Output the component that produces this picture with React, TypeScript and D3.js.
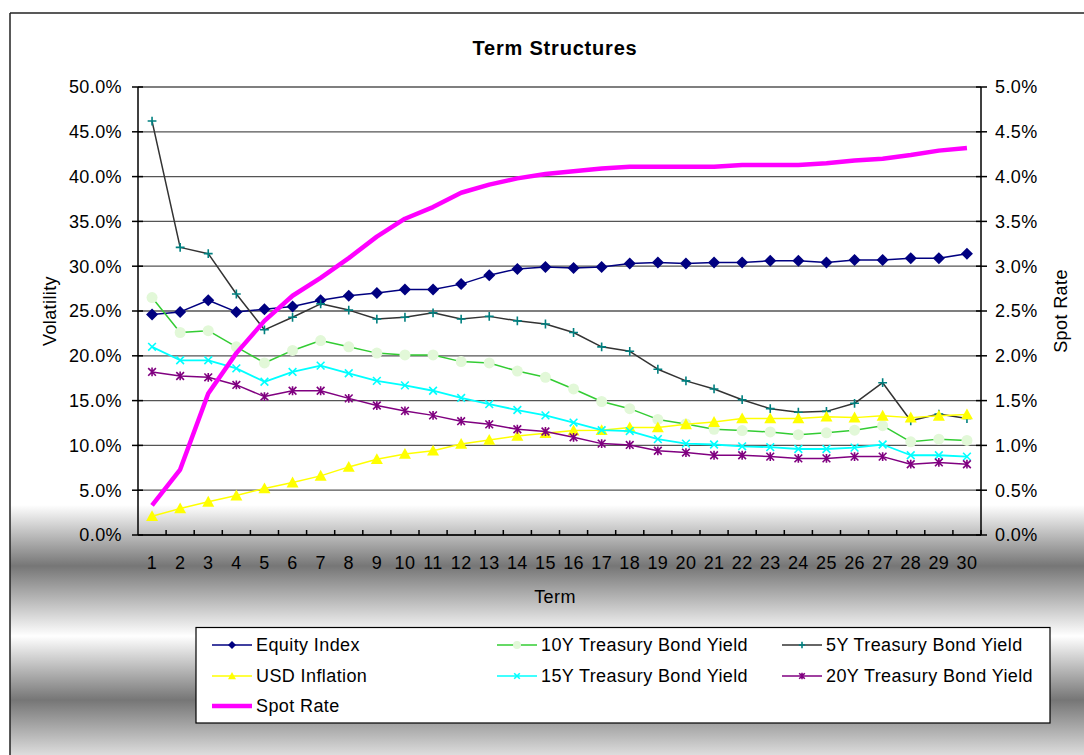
import React from "react";
import * as d3 from "d3";

const terms: number[] = d3.range(1, 31);
const equityIndex = [24.6, 24.9, 26.2, 24.9, 25.2, 25.5, 26.2, 26.7, 27.0, 27.4, 27.4, 28.0, 29.0, 29.7, 29.9, 29.8, 29.9, 30.3, 30.4, 30.3, 30.4, 30.4, 30.6, 30.6, 30.4, 30.7, 30.7, 30.9, 30.9, 31.4];
const y10Treasury = [26.5, 22.6, 22.8, 21.0, 19.2, 20.6, 21.7, 21.0, 20.3, 20.1, 20.1, 19.35, 19.2, 18.3, 17.6, 16.3, 14.9, 14.1, 12.9, 12.4, 11.8, 11.65, 11.5, 11.2, 11.4, 11.7, 12.2, 10.4, 10.7, 10.55];
const y5Treasury = [46.2, 32.1, 31.4, 26.9, 22.9, 24.3, 25.8, 25.1, 24.1, 24.3, 24.8, 24.1, 24.4, 23.9, 23.55, 22.6, 21.0, 20.5, 18.5, 17.2, 16.3, 15.1, 14.1, 13.7, 13.8, 14.7, 17.0, 12.75, 13.5, 13.0];
const usdInflation = [2.1, 2.95, 3.7, 4.4, 5.2, 5.85, 6.6, 7.6, 8.45, 9.05, 9.4, 10.15, 10.6, 11.05, 11.35, 11.65, 11.7, 12.0, 12.0, 12.35, 12.6, 13.0, 13.0, 13.0, 13.2, 13.1, 13.3, 13.1, 13.3, 13.45];
const y15Treasury = [21.0, 19.5, 19.5, 18.6, 17.1, 18.2, 18.9, 18.05, 17.2, 16.7, 16.1, 15.3, 14.6, 13.95, 13.35, 12.55, 11.7, 11.6, 10.7, 10.2, 10.1, 9.9, 9.8, 9.6, 9.6, 9.75, 10.1, 8.9, 8.9, 8.75];
const y20Treasury = [18.2, 17.75, 17.6, 16.75, 15.45, 16.1, 16.1, 15.25, 14.45, 13.85, 13.35, 12.7, 12.35, 11.8, 11.55, 10.9, 10.2, 10.05, 9.4, 9.2, 8.9, 8.9, 8.75, 8.55, 8.55, 8.75, 8.75, 7.9, 8.1, 7.9];
const spotRate = [0.33, 0.73, 1.58, 2.03, 2.39, 2.67, 2.87, 3.09, 3.33, 3.53, 3.66, 3.82, 3.91, 3.98, 4.03, 4.06, 4.09, 4.11, 4.11, 4.11, 4.11, 4.13, 4.13, 4.13, 4.15, 4.18, 4.20, 4.24, 4.29, 4.32];

const leftTicks = d3.range(0, 50.01, 5);
const rightTicks = d3.range(0, 5.001, 0.5);

type Marker = "diamond" | "circle" | "plus" | "triangle" | "cross" | "star" | "none";
interface Series { name: string; values: number[]; line: string; width: number; marker: Marker; mfill: string; axis: "left" | "right"; }

const series: Series[] = [
  { name: "Equity Index", values: equityIndex, line: "#000080", width: 1.5, marker: "diamond", mfill: "#000080", axis: "left" },
  { name: "10Y Treasury Bond Yield", values: y10Treasury, line: "#33cc33", width: 1.5, marker: "circle", mfill: "#e2f8d8", axis: "left" },
  { name: "5Y Treasury Bond Yield", values: y5Treasury, line: "#333333", width: 1.5, marker: "plus", mfill: "#008080", axis: "left" },
  { name: "USD Inflation", values: usdInflation, line: "#ffff00", width: 1.5, marker: "triangle", mfill: "#ffff00", axis: "left" },
  { name: "15Y Treasury Bond Yield", values: y15Treasury, line: "#00ffff", width: 1.8, marker: "cross", mfill: "#00ffff", axis: "left" },
  { name: "20Y Treasury Bond Yield", values: y20Treasury, line: "#800080", width: 1.5, marker: "star", mfill: "#800080", axis: "left" },
  { name: "Spot Rate", values: spotRate, line: "#ff00ff", width: 4.5, marker: "none", mfill: "#ff00ff", axis: "right" },
];

const FONT = "'Liberation Sans', Arial, sans-serif";
const FS = 18;
const LS = 0.4;

function MarkerShape({ type, x, y, s, color }: { type: Marker; x: number; y: number; s: number; color: string }) {
  const r = s / 2;
  switch (type) {
    case "diamond":
      return <path d={`M${x},${y - r}L${x + r},${y}L${x},${y + r}L${x - r},${y}Z`} fill={color} />;
    case "circle":
      return <circle cx={x} cy={y} r={r} fill={color} />;
    case "triangle":
      return <path d={`M${x},${y - r}L${x + r},${y + r * 0.8}L${x - r},${y + r * 0.8}Z`} fill={color} />;
    case "plus":
      return <path d={`M${x - r * 0.8},${y}H${x + r * 0.8}M${x},${y - r * 0.8}V${y + r * 0.8}`} stroke={color} strokeWidth={1.6} />;
    case "cross":
      return <path d={`M${x - r * 0.7},${y - r * 0.7}L${x + r * 0.7},${y + r * 0.7}M${x - r * 0.7},${y + r * 0.7}L${x + r * 0.7},${y - r * 0.7}`} stroke={color} strokeWidth={1.6} />;
    case "star":
      return <path d={`M${x - r * 0.7},${y - r * 0.7}L${x + r * 0.7},${y + r * 0.7}M${x - r * 0.7},${y + r * 0.7}L${x + r * 0.7},${y - r * 0.7}M${x},${y - r * 0.8}V${y + r * 0.8}`} stroke={color} strokeWidth={1.6} />;
    default:
      return null;
  }
}

const markerSize: Record<Marker, number> = { diamond: 12, circle: 11, triangle: 12, plus: 11, cross: 11, star: 11, none: 0 };

export default function App() {
  const W = 1084, H = 755;
  const plot = { left: 138, right: 981, top: 87, bottom: 535 };
  const x = d3.scaleBand<number>().domain(terms).range([plot.left, plot.right]);
  const yL = d3.scaleLinear().domain([0, 50]).range([plot.bottom, plot.top]);
  const yR = d3.scaleLinear().domain([0, 5]).range([plot.bottom, plot.top]);
  const cx = (t: number) => (x(t) as number) + x.bandwidth() / 2;

  const legendCols = [212, 497, 782];
  const legendRows = [645, 676, 706];

  return (
    <svg width={W} height={H} style={{ position: "absolute", left: 0, top: 0, display: "block" }} fontFamily={FONT}>
      <defs>
        <linearGradient id="bg" gradientUnits="userSpaceOnUse" x1="0" y1="13" x2="0" y2="760">
          <stop offset={(505 - 13) / 747} stopColor="#ffffff" />
          <stop offset={(566 - 13) / 747} stopColor="#767676" />
          <stop offset={(636 - 13) / 747} stopColor="#ffffff" />
          <stop offset={(700 - 13) / 747} stopColor="#767676" />
          <stop offset={1} stopColor="#e6e6e6" />
        </linearGradient>
      </defs>
      <rect x={0} y={0} width={W} height={H} fill="#ffffff" />
      <rect x={10} y={13} width={W - 10} height={H - 13} fill="url(#bg)" />
      <line x1={10} x2={W} y1={13} y2={13} stroke="#222" strokeWidth={1.5} />
      <line x1={10} x2={10} y1={13} y2={H} stroke="#222" strokeWidth={1.5} />

      <text x={555} y={55} textAnchor="middle" fontSize={20} fontWeight="bold" letterSpacing={0.8} fill="#000">Term Structures</text>

      {leftTicks.map((t) => (
        <line key={`g${t}`} x1={plot.left} x2={plot.right} y1={yL(t)} y2={yL(t)} stroke="#555" strokeWidth={1.3} />
      ))}

      <line x1={plot.left} x2={plot.left} y1={plot.top} y2={plot.bottom} stroke="#000" strokeWidth={1.5} />
      <line x1={plot.right} x2={plot.right} y1={plot.top} y2={plot.bottom} stroke="#000" strokeWidth={1.5} />
      <line x1={plot.left} x2={plot.right} y1={plot.bottom} y2={plot.bottom} stroke="#000" strokeWidth={1.5} />
      {leftTicks.map((t) => (
        <g key={`lt${t}`}>
          <line x1={plot.left - 6} x2={plot.left + 5} y1={yL(t)} y2={yL(t)} stroke="#000" strokeWidth={1.5} />
          <text x={122} y={yL(t)} dy="0.35em" textAnchor="end" fontSize={FS} letterSpacing={LS} fill="#000">{d3.format(".1f")(t)}%</text>
        </g>
      ))}
      {rightTicks.map((t) => (
        <g key={`rt${t}`}>
          <line x1={plot.right - 5} x2={plot.right + 6} y1={yR(t)} y2={yR(t)} stroke="#000" strokeWidth={1.5} />
          <text x={995} y={yR(t)} dy="0.35em" textAnchor="start" fontSize={FS} letterSpacing={LS} fill="#000">{d3.format(".1f")(t)}%</text>
        </g>
      ))}
      {terms.map((t) => (
        <g key={`xt${t}`}>
          <line x1={(x(t) as number) + x.bandwidth()} x2={(x(t) as number) + x.bandwidth()} y1={plot.bottom - 5} y2={plot.bottom} stroke="#000" strokeWidth={1.5} />
          <text x={cx(t)} y={563} dy="0.35em" textAnchor="middle" fontSize={FS} letterSpacing={LS} fill="#000">{t}</text>
        </g>
      ))}
      <text x={555} y={597} dy="0.35em" textAnchor="middle" fontSize={FS} letterSpacing={LS} fill="#000">Term</text>
      <text transform={`translate(50,${(plot.top + plot.bottom) / 2}) rotate(-90)`} dy="0.35em" textAnchor="middle" fontSize={FS} letterSpacing={LS} fill="#000">Volatility</text>
      <text transform={`translate(1061,${(plot.top + plot.bottom) / 2}) rotate(-90)`} dy="0.35em" textAnchor="middle" fontSize={FS} letterSpacing={LS} fill="#000">Spot Rate</text>

      {series.map((s) => {
        const ys = s.axis === "left" ? yL : yR;
        const line = d3.line<number>().x((_, i) => cx(terms[i])).y((v) => ys(v));
        return (
          <g key={s.name}>
            <path d={line(s.values) || ""} fill="none" stroke={s.line} strokeWidth={s.width} strokeLinejoin="round" />
            {s.marker !== "none" && s.values.map((v, i) => (
              <MarkerShape key={i} type={s.marker} x={cx(terms[i])} y={ys(v)} s={markerSize[s.marker]} color={s.mfill} />
            ))}
          </g>
        );
      })}

      <rect x={196} y={627.5} width={854} height={95.5} fill="#ffffff" stroke="#000" strokeWidth={1.2} />
      {series.map((s, i) => {
        const col = i % 3, row = Math.floor(i / 3);
        const lx = legendCols[col], ly = legendRows[row];
        return (
          <g key={`lg${s.name}`}>
            <line x1={lx} x2={lx + 40} y1={ly} y2={ly} stroke={s.line} strokeWidth={s.axis === "right" ? 4.5 : 1.5} />
            {s.marker !== "none" && <MarkerShape type={s.marker} x={lx + 20} y={ly} s={8} color={s.mfill} />}
            <text x={lx + 44} y={ly} dy="0.35em" fontSize={FS} letterSpacing={LS} fill="#000">{s.name}</text>
          </g>
        );
      })}
    </svg>
  );
}
